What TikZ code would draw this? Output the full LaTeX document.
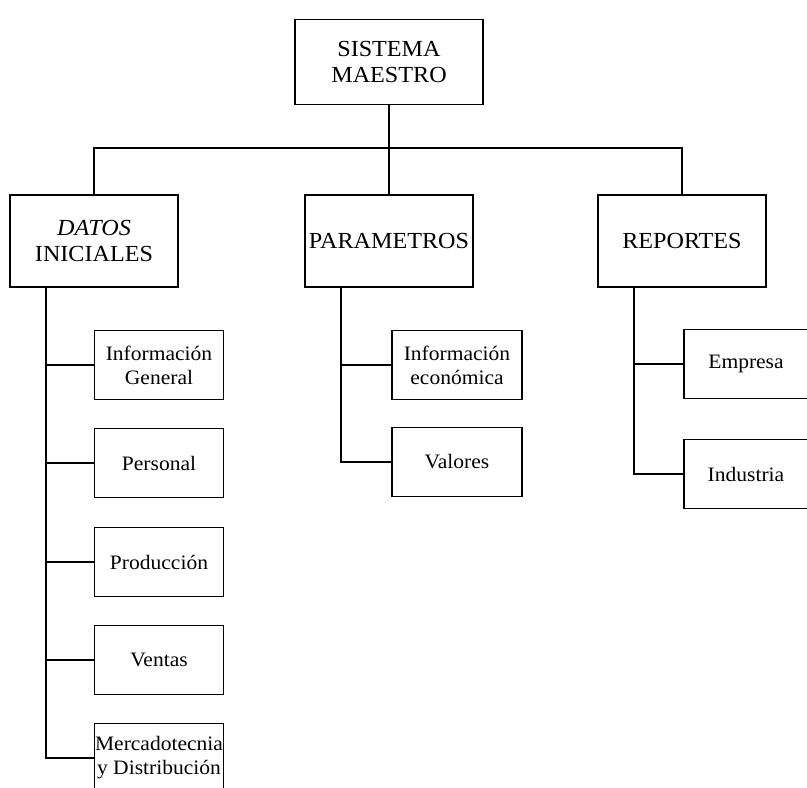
\documentclass[tikz,border=0pt]{standalone}
\usepackage{fontspec}
\setmainfont{Liberation Serif}[FakeStretch=1.05]
\begin{document}
\begin{tikzpicture}[x=1pt, y=-1pt, line width=1.5pt,
  every node/.style={draw, rectangle, align=center, inner sep=0pt},
  mainbox/.style={minimum width=168pt, minimum height=92pt, font=\fontsize{23}{25.5}\selectfont},
  subbox/.style={minimum width=129pt, minimum height=69pt, font=\fontsize{20.5}{24}\selectfont}]
\clip (0,0) rectangle (807,788);
\node[mainbox, minimum width=188pt, minimum height=85pt] (sis) at (389,62) {SISTEMA\\MAESTRO};
\node[mainbox] (datos) at (94,241) {\textit{DATOS}\\INICIALES};
\node[mainbox] (param) at (389,241) {PARAMETROS};
\node[mainbox] (rep) at (682,241) {REPORTES};
\node[subbox] (infg) at (159,365) {Información\\General};
\node[subbox] (pers) at (159,463) {Personal};
\node[subbox] (prod) at (159,562) {Producción};
\node[subbox] (vent) at (159,660) {Ventas};
\node[subbox] (merc) at (159,758) {Mercadotecnia\\y Distribución};
\node[subbox, minimum width=130pt] (infe) at (457,365) {Información\\económica};
\node[subbox, minimum width=130pt] (val) at (457,462) {Valores};
\node[subbox, minimum width=124pt] (emp) at (746,364) {Empresa};
\node[subbox, minimum width=124pt] (ind) at (746,474) {Industria};
\coordinate (bus) at (0,148);
\draw (sis) -- (param);
\draw (datos.north) -- (datos.north |- bus) -- (rep.north |- bus) -- (rep.north);
\coordinate (dt) at ([xshift=-48pt]datos.south);
\coordinate (pt) at ([xshift=-48pt]param.south);
\coordinate (rt) at ([xshift=-48pt]rep.south);
\draw (dt) |- (merc.west);
\foreach \n in {infg,pers,prod,vent} \draw (\n.west) -- (\n.west -| dt);
\draw (pt) |- (val.west);
\draw (infe.west) -- (infe.west -| pt);
\draw (rt) |- (ind.west);
\draw (emp.west) -- (emp.west -| rt);
\end{tikzpicture}
\end{document}
